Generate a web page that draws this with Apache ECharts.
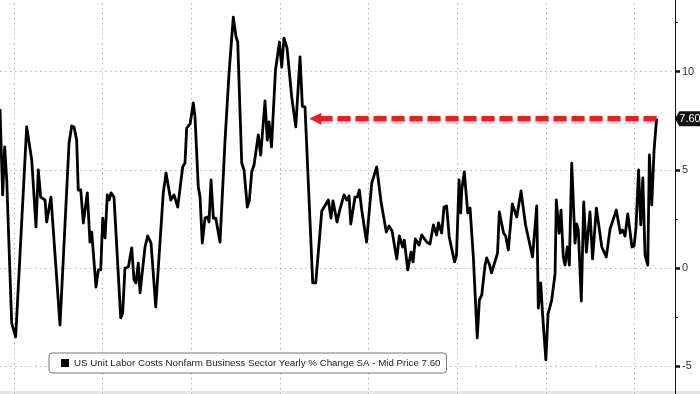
<!DOCTYPE html>
<html>
<head>
<meta charset="utf-8">
<script src="https://cdn.jsdelivr.net/npm/echarts@6/dist/echarts.min.js"></script>
<style>
  html, body { margin: 0; padding: 0; background: #fff; }
  #chart { width: 700px; height: 394px; }
</style>
</head>
<body>
<div id="chart"></div>
<script>
const seriesName = 'US Unit Labor Costs Nonfarm Business Sector Yearly % Change SA - Mid Price 7.60';
const lastLabel = '7.60';
const lastValue = 7.60;
const arrowTailYear = 1983.99;

const years = [
  1948.42, 1948.72, 1948.95, 1949.18, 1949.74, 1950.19, 1951.43, 1952.00, 1952.48, 1952.74,
  1953.01, 1953.50, 1953.69, 1954.17, 1955.19, 1956.21, 1956.51, 1956.77, 1957.07, 1957.25,
  1957.53, 1957.82, 1958.27, 1958.57, 1958.77, 1959.25, 1959.51, 1959.78, 1960.01, 1960.27,
  1960.53, 1960.75, 1960.94, 1961.28, 1962.04, 1962.26, 1962.52, 1962.90, 1963.28, 1963.54,
  1963.76, 1964.02, 1964.22, 1964.78, 1965.08, 1965.46, 1965.99, 1966.84, 1967.15, 1967.32,
  1967.68, 1968.05, 1968.47, 1969.03, 1969.29, 1969.48, 1969.86, 1970.23, 1970.42, 1970.79,
  1970.99, 1971.24, 1971.55, 1971.85, 1972.00, 1972.23, 1972.49, 1972.76, 1973.24, 1973.81,
  1974.26, 1974.74, 1975.05, 1975.24, 1975.69, 1975.95, 1976.32, 1976.55, 1976.82, 1977.08,
  1977.56, 1977.83, 1978.32, 1978.58, 1978.77, 1979.05, 1979.50, 1979.95, 1980.20, 1980.46,
  1980.80, 1981.33, 1981.79, 1982.27, 1982.53, 1982.83, 1983.70, 1984.04, 1984.72, 1985.46,
  1985.76, 1985.99, 1986.44, 1986.78, 1987.23, 1987.54, 1987.80, 1987.99, 1988.47, 1988.73,
  1988.96, 1989.23, 1989.77, 1990.36, 1990.92, 1991.41, 1992.00, 1992.31, 1992.65, 1993.18,
  1993.47, 1993.85, 1994.03, 1994.42, 1994.79, 1995.02, 1995.28, 1995.69, 1996.00, 1996.56,
  1996.93, 1997.31, 1997.67, 1997.89, 1998.25, 1998.51, 1998.80, 1999.10, 1999.70, 1999.92,
  2000.21, 2000.40, 2000.51, 2000.80, 2001.19, 2001.45, 2001.82, 2002.01, 2002.26, 2002.50,
  2002.77, 2003.14, 2003.33, 2003.65, 2003.87, 2004.08, 2004.55, 2004.75, 2005.23, 2005.47,
  2005.77, 2006.22, 2006.52, 2006.72, 2007.20, 2007.71, 2008.50, 2008.97, 2009.15, 2009.42,
  2009.60, 2010.00, 2010.25, 2010.66, 2011.04, 2011.18, 2011.49, 2011.71, 2011.97, 2012.16,
  2012.42, 2012.65, 2012.92, 2013.29, 2013.48, 2013.66, 2014.00, 2014.27, 2014.57, 2014.98,
  2015.27, 2015.70, 2016.31, 2016.82, 2017.24, 2017.95, 2018.40, 2018.65, 2018.93, 2019.24,
  2019.72, 2019.95, 2020.17, 2020.46, 2020.71, 2020.94, 2021.19, 2021.50, 2021.68, 2021.95,
  2022.21, 2022.49
];

const values = [
  8.09, 3.72, 6.16, 4.48, -2.80, -3.51, 7.18, 5.50, 2.09, 4.99,
  3.61, 3.46, 2.34, 3.61, -2.90, 6.36, 7.23, 7.18, 6.51, 3.97,
  3.97, 2.29, 3.82, 1.32, 1.83, -0.97, -0.10, -0.10, 2.54, 1.53,
  3.72, 3.46, 3.82, 3.61, -2.54, -2.29, 0.00, 0.05, 1.02, -0.61,
  -0.76, 0.25, -1.27, 1.07, 1.63, 1.27, -1.98, 3.82, 4.83, 4.78,
  3.46, 3.72, 3.10, 5.14, 5.34, 7.12, 7.33, 8.40, 7.68, 4.12,
  3.61, 1.27, 2.54, 2.60, 2.34, 4.48, 2.54, 2.54, 1.32, 6.51,
  9.92, 12.77, 11.76, 11.50, 5.34, 4.99, 3.10, 3.46, 4.89, 5.24,
  6.77, 5.75, 8.50, 6.51, 7.43, 6.16, 10.08, 11.50, 10.23, 11.70,
  11.20, 8.70, 7.18, 10.74, 8.24, 8.19, -0.76, -0.76, 2.90, 3.46,
  2.54, 3.41, 2.34, 3.00, 3.72, 3.46, 3.66, 2.24, 3.61, 3.61,
  3.97, 2.95, 1.32, 4.33, 5.14, 3.36, 1.83, 2.14, 1.88, 0.46,
  1.63, 1.07, 1.42, -0.10, 0.81, 0.31, 1.48, 1.17, 1.68, 1.32,
  1.22, 2.19, 1.68, 2.29, 1.78, 3.10, 3.16, 1.58, 0.31, 0.66,
  4.48, 2.80, 3.97, 4.89, 2.80, 3.05, 0.56, 0.56, -3.56, -1.63,
  -1.37, 0.15, 0.51, 0.15, -0.25, -0.15, 0.76, 2.85, 1.78, 1.63,
  0.92, 3.26, 2.85, 2.60, 3.92, 2.19, 0.56, 3.16, -2.04, -0.76,
  -2.14, -4.68, -2.34, -1.63, -0.30, 3.46, 1.78, 2.95, 0.56, 0.15,
  1.07, 0.15, 5.34, 1.27, 2.24, 1.93, -1.68, 3.36, 0.81, 2.85,
  0.46, 3.05, 1.07, 0.56, 1.98, 2.95, 1.78, 1.93, 1.63, 2.75,
  1.07, 1.12, 2.04, 4.99, 2.19, 4.58, 0.66, 0.15, 5.75, 3.21,
  6.00, 7.60
];

const yTicks = [-10, -5, 0, 5, 10, 15];

const data = years.map((y, i) => [y, values[i]]);
const xMin = 1940, xMax = 2024.57;
const FONT = "'Liberation Sans', Arial, sans-serif";

const chart = echarts.init(document.getElementById('chart'), null, { renderer: 'canvas' });
chart.setOption({
  animation: false,
  backgroundColor: '#ffffff',
  grid: { left: -74.64, right: 25, top: -26.75, bottom: -70.5, containLabel: false, outerBoundsMode: 'none' },
  xAxis: {
    type: 'value', min: xMin, max: xMax, interval: 10,
    axisLine: { show: false }, axisTick: { show: false }, axisLabel: { show: false },
    splitLine: { show: true, lineStyle: { color: '#8a8a8a', width: 1, type: [1, 4] } }
  },
  yAxis: {
    type: 'value', position: 'right', min: yTicks[0], max: yTicks[yTicks.length - 1], interval: 5,
    axisLine: { show: true, lineStyle: { color: '#111', width: 1 } },
    axisTick: { show: true, inside: false, length: 5, lineStyle: { color: '#111', width: 2.5 } },
    minorTick: { show: true, splitNumber: 2, length: 3, lineStyle: { color: '#333', width: 1 } },
    axisLabel: { show: true, margin: 7, color: '#333', fontSize: 11, fontFamily: FONT },
    splitLine: { show: true, lineStyle: { color: '#8a8a8a', width: 1, type: [1, 4] } }
  },
  legend: {
    show: true, left: 49, top: 353,
    data: [{ name: seriesName, icon: 'rect' }],
    itemWidth: 8, itemHeight: 8,
    padding: [5, 6, 5, 12],
    backgroundColor: '#ffffff', borderColor: '#777', borderWidth: 1, borderRadius: 3,
    textStyle: { color: '#222', fontSize: 9.75, fontFamily: FONT },
    selectedMode: false
  },
  graphic: [
    { type: 'text', left: 53, top: 359, style: { text: '\u229F', fill: '#777', font: "8px 'DejaVu Sans'" } },
    { type: 'rect', left: 0, top: 391, shape: { width: 700, height: 3 }, style: { fill: '#e4e4e4' }, silent: true }
  ],
  series: [{
    name: seriesName,
    type: 'line',
    data: data,
    clip: false,
    showSymbol: false,
    symbol: 'none',
    lineStyle: { color: '#000', width: 2.8, join: 'round' },
    itemStyle: { color: '#000' },
    markLine: {
      silent: true,
      symbol: ['none', 'triangle'],
      symbolSize: [12, 12],
      label: { show: false },
      lineStyle: {
        color: '#e3202a', width: 5, type: [13, 5],
        shadowColor: 'rgba(0,0,0,0.35)', shadowBlur: 3, shadowOffsetY: 2
      },
      itemStyle: { color: '#e3202a' },
      data: [[
        { coord: [years[years.length - 1], lastValue] },
        { coord: [arrowTailYear, lastValue] }
      ]]
    },
    markPoint: {
      silent: true,
      symbol: 'path://M0,7 L5,0 L30,0 L30,14 L5,14 Z',
      symbolSize: [26, 15],
      symbolOffset: [13, 0],
      itemStyle: { color: '#111' },
      label: { show: true, position: 'inside', color: '#fff', fontSize: 11, fontFamily: FONT, offset: [2, 0], formatter: lastLabel },
      data: [{ coord: [xMax, lastValue] }]
    }
  }]
});
</script>
</body>
</html>
